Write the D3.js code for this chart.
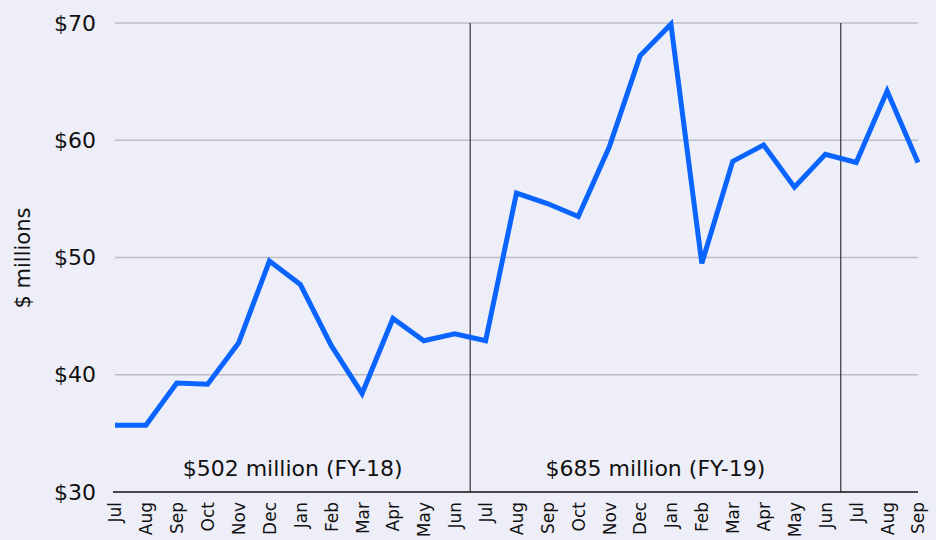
<!DOCTYPE html>
<html><head><meta charset="utf-8">
<script src="https://cdn.jsdelivr.net/npm/d3@7"></script>
<style>
html,body{margin:0;padding:0;background:#eeeef8;}
svg{display:block;font-family:"DejaVu Sans",sans-serif;}
</style></head>
<body>
<svg id="c" width="936" height="540"></svg>
<script>
const months = ["Jul","Aug","Sep","Oct","Nov","Dec","Jan","Feb","Mar","Apr","May","Jun",
                "Jul","Aug","Sep","Oct","Nov","Dec","Jan","Feb","Mar","Apr","May","Jun",
                "Jul","Aug","Sep"];
const values = [35.7,35.7,39.3,39.2,42.7,49.7,47.7,42.5,38.4,44.8,42.9,43.5,
                42.9,55.5,54.6,53.5,59.4,67.2,69.9,49.5,58.2,59.6,56.0,58.8,
                58.1,64.2,58.1];
const yTicks = [30,40,50,60,70];
const dividers = [11.5, 23.5];
const periods = [{label:"$502 million (FY-18)", from:0, to:11.5},
                 {label:"$685 million (FY-19)", from:11.5, to:23.5}];

(function(){
const svg = d3.select("#c");
const mL = 115, mR = 918, mT = 23, mB = 492;
const x = d3.scaleLinear().domain([0, months.length-1]).range([mL, mR]);
const y = d3.scaleLinear().domain([30,70]).range([mB, mT]);

svg.append("g").selectAll("line").data(yTicks.filter(t=>t>30)).join("line")
  .attr("x1", mL).attr("x2", mR)
  .attr("y1", d=>y(d)).attr("y2", d=>y(d))
  .attr("stroke", "#bdbdc4").attr("stroke-width", 1.5);

const yAxis = d3.axisLeft(y).tickValues(yTicks).tickSize(0).tickPadding(19).tickFormat(d=>"$"+d);
const ya = svg.append("g").attr("transform", `translate(${mL},0)`).call(yAxis);
ya.attr("font-family", null).attr("font-size", null);
ya.select(".domain").remove();
ya.selectAll("text").attr("font-size", 22).attr("fill", "#111");

svg.append("g").selectAll("line").data(dividers).join("line")
  .attr("x1", d=>x(d)).attr("x2", d=>x(d))
  .attr("y1", mT).attr("y2", mB)
  .attr("stroke", "#111").attr("stroke-width", 1);

const xAxis = d3.axisBottom(x).tickValues(d3.range(months.length)).tickSize(0).tickPadding(0)
  .tickFormat(i=>months[i]);
const xa = svg.append("g").attr("transform", `translate(0,${mB})`).call(xAxis);
xa.attr("font-family", null).attr("font-size", null);
xa.select(".domain").attr("d", `M${mL-2},0H${mR}`).attr("stroke", "#111").attr("stroke-width", 1.5);
xa.selectAll("text")
  .attr("font-size", 17).attr("fill", "#111")
  .attr("text-anchor", "end")
  .attr("transform", "rotate(-90)")
  .attr("x", -10).attr("y", 0).attr("dy", "0.35em");

svg.append("g").selectAll("text").data(periods).join("text")
  .attr("x", d=>(x(d.from)+x(d.to))/2).attr("y", 476)
  .attr("text-anchor", "middle").attr("font-size", 22).attr("fill", "#111")
  .text(d=>d.label);

const line = d3.line().x((d,i)=>x(i)).y(d=>y(d));
svg.append("path").datum(values)
  .attr("d", line).attr("fill", "none")
  .attr("stroke", "#0a64ff").attr("stroke-width", 5)
  .attr("stroke-linejoin", "miter");

svg.append("text").attr("transform", "translate(30,258) rotate(-90)")
  .attr("text-anchor", "middle").attr("font-size", 21).attr("fill", "#111")
  .text("$ millions");
})();
</script>
</body></html>
